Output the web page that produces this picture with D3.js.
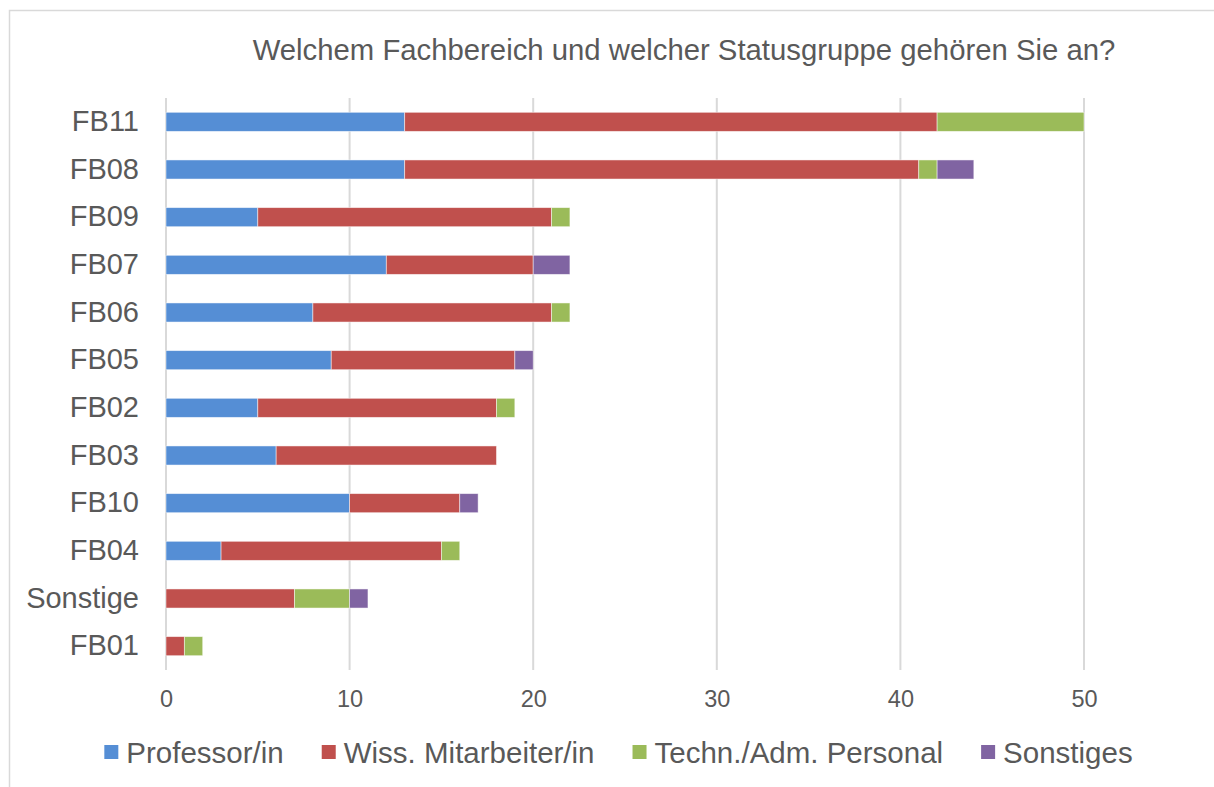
<!DOCTYPE html>
<html>
<head>
<meta charset="utf-8">
<script src="https://cdn.jsdelivr.net/npm/d3@7"></script>
<style>
  html, body { margin: 0; padding: 0; background: #fff; }
  svg { display: block; font-family: "Liberation Sans", Arial, sans-serif; }
</style>
</head>
<body>
<div id="chart"></div>
<script>
// Kategorien (von oben nach unten)
const categories = ["FB11", "FB08", "FB09", "FB07", "FB06", "FB05", "FB02", "FB03", "FB10", "FB04", "Sonstige", "FB01"];
const seriesNames = ["Professor/in", "Wiss. Mitarbeiter/in", "Techn./Adm. Personal", "Sonstiges"];
const professor = [13, 13, 5, 12, 8, 9, 5, 6, 10, 3, 0, 0];
const wiss = [29, 28, 16, 8, 13, 10, 13, 12, 6, 12, 7, 1];
const techn = [8, 1, 1, 0, 1, 0, 1, 0, 0, 1, 3, 1];
const sonstiges = [0, 2, 0, 2, 0, 1, 0, 0, 1, 0, 1, 0];
const xTicks = [0, 10, 20, 30, 40, 50];
const colors = ["#558ED5", "#C0504D", "#9BBB59", "#8064A2"];

const width = 1214, height = 787;
const margin = { top: 98, right: 130, bottom: 117, left: 166 };
const textColor = "#595959";

const rows = categories.map((c, i) => ({
    cat: c,
    "Professor/in": professor[i],
    "Wiss. Mitarbeiter/in": wiss[i],
    "Techn./Adm. Personal": techn[i],
    "Sonstiges": sonstiges[i]
}));
const stacked = d3.stack().keys(seriesNames)(rows);

const x = d3.scaleLinear().domain([0, 50]).range([margin.left, 1084]);
const y = d3.scaleBand().domain(categories).range([margin.top, height - margin.bottom]).paddingInner(0.6).paddingOuter(0.3);
const color = d3.scaleOrdinal().domain(seriesNames).range(colors);

const svg = d3.select("#chart").append("svg")
    .attr("width", width)
    .attr("height", height)
    .attr("viewBox", [0, 0, width, height]);

// Rahmen
svg.append("rect")
    .attr("x", 9.5).attr("y", 10.5)
    .attr("width", width + 20).attr("height", height + 20)
    .attr("fill", "#fff")
    .attr("stroke", "#D9D9D9")
    .attr("stroke-width", 1.5);

// Titel
svg.append("text")
    .attr("x", 684).attr("y", 60)
    .attr("text-anchor", "middle")
    .attr("fill", textColor)
    .attr("font-size", 29.3)
    .text("Welchem Fachbereich und welcher Statusgruppe gehören Sie an?");

// Gitterlinien
svg.append("g")
    .selectAll("line")
    .data(xTicks)
    .join("line")
    .attr("x1", d => x(d)).attr("x2", d => x(d))
    .attr("y1", margin.top).attr("y2", height - margin.bottom)
    .attr("stroke", "#D9D9D9")
    .attr("stroke-width", 2);

// X-Achse
const xAxis = svg.append("g")
    .attr("transform", `translate(0,${height - margin.bottom})`)
    .call(d3.axisBottom(x).tickValues(xTicks).tickSize(0).tickPadding(20));
xAxis.select(".domain").remove();
xAxis.selectAll("text").attr("fill", textColor).attr("font-size", 23.5).attr("font-family", "Liberation Sans, Arial, sans-serif");

// Y-Achse
const yAxis = svg.append("g")
    .attr("transform", `translate(${margin.left - 27},0)`)
    .call(d3.axisLeft(y).tickSize(0).tickPadding(0));
yAxis.select(".domain").remove();
yAxis.selectAll("text").attr("fill", textColor).attr("font-size", 29).attr("font-family", "Liberation Sans, Arial, sans-serif");

// Balken
svg.append("g")
    .selectAll("g")
    .data(stacked)
    .join("g")
    .attr("fill", d => color(d.key))
    .selectAll("rect")
    .data(d => d.filter(s => s[1] - s[0] > 0))
    .join("rect")
    .attr("x", d => x(d[0]))
    .attr("y", d => y(d.data.cat))
    .attr("width", d => x(d[1]) - x(d[0]))
    .attr("height", y.bandwidth())
    .attr("stroke", "#fff")
    .attr("stroke-opacity", 0.6)
    .attr("stroke-width", 0.8);

// Legende
const legend = svg.append("g").attr("transform", "translate(0,752)");
const items = legend.selectAll("g")
    .data(seriesNames)
    .join("g");
items.append("rect")
    .attr("width", 14).attr("height", 14)
    .attr("y", -7)
    .attr("fill", d => color(d));
items.append("text")
    .attr("x", 22)
    .attr("dy", "0.36em")
    .attr("fill", textColor)
    .attr("font-size", 29.5)
    .text(d => d);

let offsets = [], total = 0;
items.each(function () {
    const w = 22 + this.querySelector("text").getComputedTextLength();
    offsets.push(total);
    total += w + 38;
});
total -= 38;
const startX = 618.5 - total / 2;
items.attr("transform", (d, i) => `translate(${startX + offsets[i]},0)`);
</script>
</body>
</html>
